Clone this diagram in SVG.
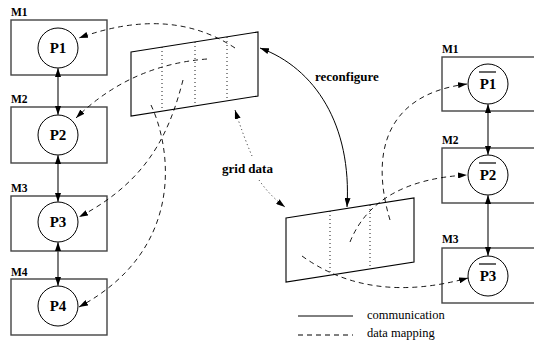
<svg xmlns="http://www.w3.org/2000/svg" width="534" height="343" viewBox="0 0 534 343">
<style>
text{font-family:'Liberation Serif','Times New Roman',Times,'DejaVu Serif',serif;fill:#000}
.box{fill:none;stroke:#444;stroke-width:1.4}
.circ{fill:#fff;stroke:#000;stroke-width:1}
.ml{font-weight:bold;font-size:11.5px}
.pl{font-weight:bold;font-size:15px;text-anchor:middle}
.lbl{font-weight:bold;font-size:13px}
.leg{font-size:12.5px}
.para{fill:#fff;stroke:#000;stroke-width:1.1}
.dot{fill:none;stroke:#000;stroke-width:0.9;stroke-dasharray:1,3}
.comm{fill:none;stroke:#444;stroke-width:1.4;marker-start:url(#ah);marker-end:url(#ah)}
.dash{fill:none;stroke:#000;stroke-width:0.9;stroke-dasharray:5,4;marker-end:url(#ah)}
.solid{fill:none;stroke:#000;stroke-width:1}
.ov{stroke:#000;stroke-width:1.2}
</style>
<defs>
<marker id="ah" viewBox="0 0 9 6" refX="9" refY="3" markerWidth="9" markerHeight="6" markerUnits="userSpaceOnUse" orient="auto-start-reverse">
<path d="M0,0 L9,3 L0,6 z" fill="#000" stroke="none"/>
</marker>
</defs>
<rect width="534" height="343" fill="#fff"/>

<g id="gridL">
<polygon class="para" points="131,52 258,32 258,96 131,116"/>
<line class="dot" x1="162" y1="47" x2="162" y2="111"/>
<line class="dot" x1="195" y1="42" x2="195" y2="106"/>
<line class="dot" x1="227" y1="37" x2="227" y2="101"/>
</g>
<g id="gridR">
<polygon class="para" points="286,218 414,198 414,262 286,282"/>
<line class="dot" x1="330" y1="211" x2="330" y2="275"/>
<line class="dot" x1="370" y1="205" x2="370" y2="269"/>
</g>

<g id="L1"><text class="ml" x="11" y="16">M1</text><rect class="box" x="11" y="20" width="96" height="55"/><circle class="circ" cx="58" cy="48" r="20"/><text class="pl" x="58" y="53">P1</text></g>
<g id="L2"><text class="ml" x="11" y="103">M2</text><rect class="box" x="11" y="107" width="96" height="56"/><circle class="circ" cx="58" cy="135" r="20"/><text class="pl" x="58" y="140">P2</text></g>
<g id="L3"><text class="ml" x="11" y="192">M3</text><rect class="box" x="11" y="196" width="96" height="55"/><circle class="circ" cx="58" cy="222" r="20"/><text class="pl" x="58" y="227">P3</text></g>
<g id="L4"><text class="ml" x="11" y="276">M4</text><rect class="box" x="11" y="279" width="96" height="56"/><circle class="circ" cx="58" cy="306" r="20"/><text class="pl" x="58" y="311">P4</text></g>

<g id="R1"><text class="ml" x="442" y="53">M1</text><rect class="box" x="442" y="57" width="100" height="54"/><circle class="circ" cx="488" cy="84" r="20"/><text class="pl" x="488" y="89">P1</text><line class="ov" x1="479" y1="72" x2="496" y2="72"/></g>
<g id="R2"><text class="ml" x="442" y="144">M2</text><rect class="box" x="442" y="148" width="100" height="55"/><circle class="circ" cx="488" cy="175" r="20"/><text class="pl" x="488" y="180">P2</text><line class="ov" x1="479" y1="163" x2="496" y2="163"/></g>
<g id="R3"><text class="ml" x="442" y="243">M3</text><rect class="box" x="442" y="248" width="100" height="55"/><circle class="circ" cx="488" cy="276" r="20"/><text class="pl" x="488" y="281">P3</text><line class="ov" x1="479" y1="264" x2="496" y2="264"/></g>

<g id="connectors">
<line class="comm" x1="58" y1="68" x2="58" y2="115"/>
<line class="comm" x1="58" y1="155" x2="58" y2="202"/>
<line class="comm" x1="58" y1="242" x2="58" y2="286"/>
<line class="comm" x1="488" y1="104" x2="488" y2="155"/>
<line class="comm" x1="488" y1="195" x2="488" y2="256"/>

<path class="solid" d="M260,48 C315,68 352,125 347,207" marker-start="url(#ah)" marker-end="url(#ah)"/>
<path class="dot" d="M252,156 Q243,135 235,110" marker-end="url(#ah)"/>
<path class="dot" d="M259,180 Q270,196 285,207" marker-end="url(#ah)"/>

<path class="dash" d="M235,48 Q170,5 79,38"/>
<path class="dash" d="M207,59 Q130,65 76,118"/>
<path class="dash" d="M183,80 C170,130 150,180 79,217"/>
<path class="dash" d="M151,105 C172,150 185,250 79,307"/>

<path class="dash" d="M390,220 C372,160 380,95 467,84"/>
<path class="dash" d="M350,242 Q375,180 467,175"/>
<path class="dash" d="M302,256 Q370,305 468,278"/>
</g>

<text class="lbl" x="315" y="81">reconfigure</text>
<text class="lbl" x="222" y="173">grid data</text>

<g id="legend">
<line x1="298" y1="316" x2="353" y2="316" stroke="#000" stroke-width="1"/>
<text class="leg" x="367" y="319">communication</text>
<line x1="298" y1="335" x2="353" y2="335" stroke="#000" stroke-width="1" stroke-dasharray="5,4"/>
<text class="leg" x="367" y="337">data mapping</text>
</g>
</svg>
